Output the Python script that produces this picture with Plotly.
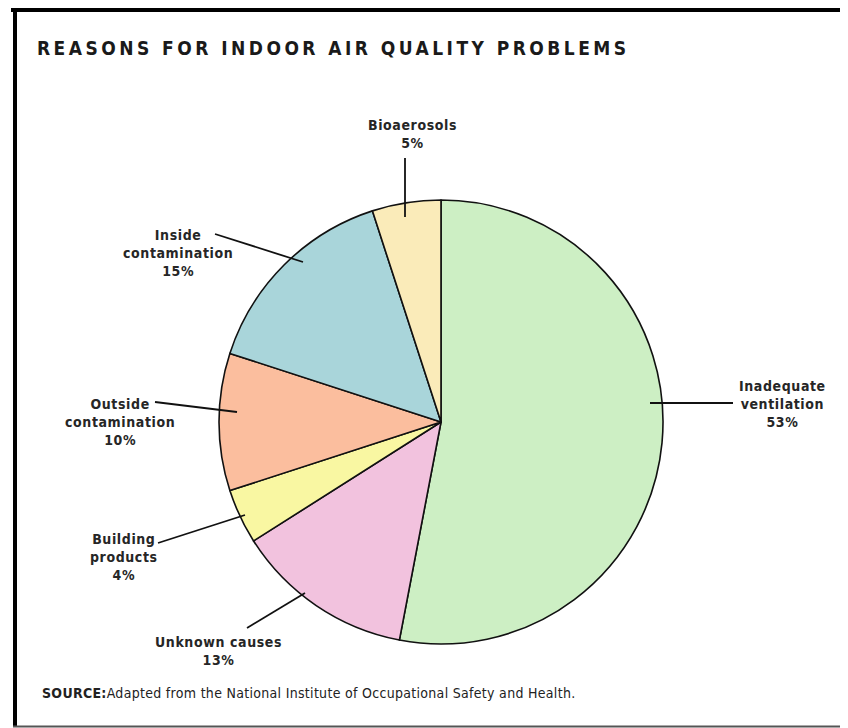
import plotly.graph_objects as go

# ---- data ----
categories = ["Inadequate ventilation", "Unknown causes", "Building products",
              "Outside contamination", "Inside contamination", "Bioaerosols"]
values = [53, 13, 4, 10, 15, 5]
label_lines = [["Inadequate", "ventilation"], ["Unknown causes"], ["Building", "products"],
               ["Outside", "contamination"], ["Inside", "contamination"], ["Bioaerosols"]]
colors = ["#cdefc4", "#f2c2de", "#f9f7a2", "#fbbe9e", "#a9d5da", "#faebb9"]

title_text = "REASONS FOR INDOOR AIR QUALITY PROBLEMS"
source_label = "SOURCE:"
source_text = "Adapted from the National Institute of Occupational Safety and Health."

# ---- layout (screen pixel positions; page body has an 8px margin) ----
W, H = 848, 728
OFF = 8
def px(x): return (x - OFF) / W
def py(y): return 1 - (y - OFF) / H

label_pos = [(782, 404), (218, 651), (124, 557), (120, 422), (178, 253), (412, 134)]
leaders = [((650, 403), (733, 403)), ((305, 593), (247, 628)), ((245, 515), (158, 543)),
           ((237, 412), (155, 402)), ((303, 262), (215, 234)), ((405, 217), (405, 158))]

FONT = "DejaVu Sans Condensed, DejaVu Sans, sans-serif"

fig = go.Figure(go.Pie(
    labels=categories, values=values, sort=False, direction="clockwise", rotation=0,
    marker=dict(colors=colors, line=dict(color="#111111", width=1.6)),
    textinfo="none", hoverinfo="label+percent",
    domain=dict(x=[px(219), px(663)], y=[py(644), py(200)]),
    showlegend=False,
))

annotations = []
for lines, v, (x, y) in zip(label_lines, values, label_pos):
    annotations.append(dict(
        x=px(x), y=py(y), xref="paper", yref="paper", showarrow=False,
        text="<br>".join(f'<span style="letter-spacing:0.6px">{t}</span>' for t in lines + [f"{v}%"]),
        align="center", xanchor="center", yanchor="middle",
        font=dict(family=FONT, size=14, color="#262626", weight="bold"),
    ))
annotations.append(dict(
    x=px(35), y=py(48), xref="paper", yref="paper", showarrow=False,
    text=f'<span style="letter-spacing:3.45px">{title_text}</span>', xanchor="left", yanchor="middle",
    font=dict(family=FONT, size=19, color="#1a1a1a", weight="bold"),
))
annotations.append(dict(
    x=px(40), y=py(693), xref="paper", yref="paper", showarrow=False,
    text=f'<span style="letter-spacing:0.3px"><b>{source_label}</b>{source_text}</span>',
    xanchor="left", yanchor="middle",
    font=dict(family=FONT, size=14, color="#222222"),
))

shapes = []
for (a, b) in leaders:
    shapes.append(dict(type="line", xref="paper", yref="paper",
                       x0=px(a[0]), y0=py(a[1]), x1=px(b[0]), y1=py(b[1]),
                       line=dict(color="#111111", width=1.8)))
# frame
shapes.append(dict(type="line", xref="paper", yref="paper", x0=px(11), y0=py(9), x1=1, y1=py(9),
                   line=dict(color="#000000", width=6)))
shapes.append(dict(type="line", xref="paper", yref="paper", x0=px(15), y0=py(7), x1=px(15), y1=py(727),
                   line=dict(color="#000000", width=4)))
shapes.append(dict(type="line", xref="paper", yref="paper", x0=px(13), y0=py(726.5), x1=1, y1=py(726.5),
                   line=dict(color="#555555", width=2)))

fig.update_layout(
    width=W, height=H, margin=dict(l=0, r=0, t=0, b=0),
    paper_bgcolor="white", plot_bgcolor="white",
    annotations=annotations, shapes=shapes,
)
fig.write_html("out.html")
